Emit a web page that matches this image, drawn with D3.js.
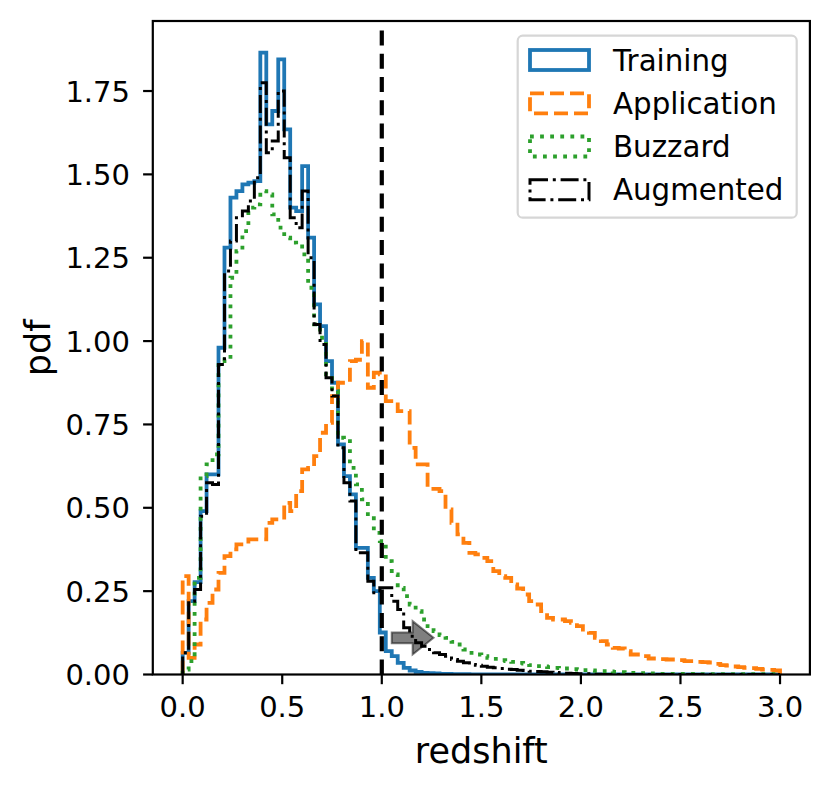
<!DOCTYPE html>
<html>
<head>
<meta charset="utf-8">
<script src="https://cdn.jsdelivr.net/npm/d3@7"></script>
<style>
  html, body { margin: 0; padding: 0; background: #fff; }
  text { font-family: "DejaVu Sans", sans-serif; fill: #000; }
</style>
</head>
<body>
<div id="chart"></div>
<script>
// histogram bins: 100 bins of width 0.03 between 0 and 3
const binStart = 0;
const binWidth = 0.03;

// pdf per bin
const training = [
  0.065, 0.22, 0.277, 0.49, 0.60, 0.60, 0.98, 1.28, 1.43, 1.45,
  1.47, 1.475, 1.48, 1.865, 1.65, 1.69, 1.845, 1.635, 1.40, 1.39,
  1.525, 1.31, 1.11, 1.045, 0.94, 0.875, 0.69, 0.595, 0.54, 0.38,
  0.38, 0.29, 0.25, 0.126, 0.07, 0.055, 0.035, 0.02, 0.012, 0.008,
  0.005, 0.004, 0.003, 0.002, 0.0015, 0.001, 0.001, 0.0008, 0.0005, 0.0003,
  0, 0, 0, 0, 0, 0, 0, 0, 0, 0,
  0, 0, 0, 0, 0, 0, 0, 0, 0, 0,
  0, 0, 0, 0, 0, 0, 0, 0, 0, 0,
  0, 0, 0, 0, 0, 0, 0, 0, 0, 0,
  0, 0, 0, 0, 0, 0, 0, 0, 0, 0
];

const application = [
  0.295, 0.05, 0.09, 0.165, 0.215, 0.255, 0.305, 0.355, 0.375, 0.39,
  0.39, 0.405, 0.405, 0.405, 0.455, 0.465, 0.465, 0.515, 0.49, 0.55,
  0.615, 0.62, 0.655, 0.725, 0.755, 0.835, 0.875, 0.875, 0.94, 0.944,
  1.0, 0.86, 0.905, 0.9, 0.82, 0.82, 0.79, 0.79, 0.68, 0.63,
  0.63, 0.557, 0.557, 0.55, 0.495, 0.455, 0.42, 0.395, 0.365, 0.36,
  0.35, 0.34, 0.31, 0.295, 0.29, 0.27, 0.258, 0.24, 0.22, 0.21,
  0.19, 0.17, 0.165, 0.165, 0.16, 0.155, 0.145, 0.135, 0.125, 0.11,
  0.1, 0.09, 0.08, 0.078, 0.07, 0.06, 0.06, 0.055, 0.048, 0.048,
  0.046, 0.045, 0.045, 0.043, 0.04, 0.04, 0.038, 0.037, 0.036, 0.032,
  0.028, 0.027, 0.024, 0.022, 0.02, 0.019, 0.017, 0.015, 0.014, 0.012
];

const buzzard = [
  0.015, 0.04, 0.29, 0.595, 0.63, 0.66, 0.94, 0.945, 1.19, 1.27,
  1.33, 1.40, 1.41, 1.45, 1.44, 1.38, 1.34, 1.31, 1.295, 1.29,
  1.26, 1.16, 1.05, 1.01, 0.90, 0.85, 0.71, 0.70, 0.62, 0.57,
  0.525, 0.475, 0.425, 0.40, 0.34, 0.30, 0.26, 0.235, 0.21, 0.19,
  0.165, 0.145, 0.13, 0.118, 0.11, 0.098, 0.09, 0.075, 0.065, 0.06,
  0.055, 0.05, 0.047, 0.043, 0.04, 0.038, 0.035, 0.033, 0.028, 0.025,
  0.024, 0.022, 0.02, 0.019, 0.018, 0.016, 0.015, 0.013, 0.012, 0.011,
  0.01, 0.009, 0.008, 0.007, 0.006, 0.005, 0.004, 0.004, 0.003, 0.003,
  0.002, 0.002, 0.002, 0.002, 0.002, 0.002, 0.001, 0.001, 0.001, 0.001,
  0.001, 0.001, 0.001, 0.001, 0.001, 0.001, 0.001, 0.001, 0.001, 0.001
];

const augmented = [
  0.065, 0.22, 0.255, 0.475, 0.575, 0.57, 0.93, 1.21, 1.30, 1.37,
  1.39, 1.42, 1.49, 1.775, 1.565, 1.60, 1.75, 1.55, 1.37, 1.34,
  1.45, 1.25, 1.05, 0.99, 0.89, 0.835, 0.68, 0.575, 0.52, 0.365,
  0.365, 0.28, 0.245, 0.26, 0.26, 0.22, 0.195, 0.14, 0.115, 0.095,
  0.085, 0.075, 0.065, 0.06, 0.055, 0.045, 0.04, 0.035, 0.03, 0.028,
  0.025, 0.022, 0.02, 0.018, 0.016, 0.015, 0.013, 0.012, 0.01, 0.009,
  0.008, 0.007, 0.006, 0.005, 0.004, 0.003, 0.002, 0.002, 0.001, 0.001,
  0, 0, 0, 0, 0, 0, 0, 0, 0, 0,
  0, 0, 0, 0, 0, 0, 0, 0, 0, 0,
  0, 0, 0, 0, 0, 0, 0, 0, 0, 0
];

const seriesNames = ['Training', 'Application', 'Buzzard', 'Augmented'];
const xTicks = [0, 0.5, 1.0, 1.5, 2.0, 2.5, 3.0];
const yTicks = [0, 0.25, 0.5, 0.75, 1.0, 1.25, 1.5, 1.75];
const cutRedshift = 1.0;
// arrow: tail x, y, tip x (data units)
const arrowTail = [1.05, 0.11];
const arrowTip = 1.26;

const styles = {
  Training:    { color: '#1f77b4', width: 3.8, dash: null },
  Application: { color: '#ff7f0e', width: 3.8, dash: '14,6' },
  Buzzard:     { color: '#2ca02c', width: 3.8, dash: '3.8,6.3' },
  Augmented:   { color: '#000000', width: 3.0, dash: '18,4.8,3,4.8' }
};

const W = 832, H = 791;
const plot = { left: 152.8, right: 809.9, top: 21, bottom: 674.5 };

const x = d3.scaleLinear().domain([-0.15, 3.15]).range([plot.left, plot.right]);
const y = d3.scaleLinear().domain([0, 1.96]).range([plot.bottom, plot.top]);

const svg = d3.select('#chart').append('svg')
  .attr('width', W).attr('height', H);

svg.append('defs').append('clipPath').attr('id', 'plotclip')
  .append('rect')
  .attr('x', plot.left).attr('y', plot.top)
  .attr('width', plot.right - plot.left).attr('height', plot.bottom - plot.top);

// turn bin values into step outline vertices (like histtype='step')
function stepPoints(values) {
  const pts = [[binStart, 0]];
  values.forEach((v, i) => {
    const x0 = binStart + i * binWidth;
    pts.push([x0, v]);
    pts.push([x0 + binWidth, v]);
  });
  pts.push([binStart + values.length * binWidth, 0]);
  return pts;
}

const line = d3.line().x(d => x(d[0])).y(d => y(d[1]));

const g = svg.append('g').attr('clip-path', 'url(#plotclip)');

const allSeries = [training, application, buzzard, augmented];
allSeries.forEach((vals, i) => {
  const st = styles[seriesNames[i]];
  g.append('path')
    .attr('d', line(stepPoints(vals)))
    .attr('fill', 'none')
    .attr('stroke', st.color)
    .attr('stroke-width', st.width)
    .attr('stroke-linejoin', 'miter')
    .attr('stroke-dasharray', st.dash);
});

// dashed cut line
g.append('line')
  .attr('x1', x(cutRedshift)).attr('x2', x(cutRedshift))
  .attr('y1', plot.bottom).attr('y2', plot.top)
  .attr('stroke', '#000').attr('stroke-width', 4.2)
  .attr('stroke-dasharray', '15,8.3');

// grey arrow
const bodyHalf = 0.016, headHalf = 0.05, headStart = 1.155;
const arrowPts = [
  [arrowTail[0], arrowTail[1] + bodyHalf],
  [headStart, arrowTail[1] + bodyHalf],
  [headStart, arrowTail[1] + headHalf],
  [arrowTip, arrowTail[1]],
  [headStart, arrowTail[1] - headHalf],
  [headStart, arrowTail[1] - bodyHalf],
  [arrowTail[0], arrowTail[1] - bodyHalf]
];
g.append('path')
  .attr('d', line(arrowPts) + 'Z')
  .attr('fill', '#000').attr('fill-opacity', 0.5)
  .attr('stroke', '#000').attr('stroke-opacity', 0.5)
  .attr('stroke-width', 2).attr('stroke-linejoin', 'miter');

// axes frame
svg.append('rect')
  .attr('x', plot.left).attr('y', plot.top)
  .attr('width', plot.right - plot.left).attr('height', plot.bottom - plot.top)
  .attr('fill', 'none').attr('stroke', '#000').attr('stroke-width', 2.2);

// ticks
const xAxis = svg.append('g');
xTicks.forEach(t => {
  xAxis.append('line')
    .attr('x1', x(t)).attr('x2', x(t))
    .attr('y1', plot.bottom).attr('y2', plot.bottom + 9.7)
    .attr('stroke', '#000').attr('stroke-width', 2.2);
  xAxis.append('text')
    .attr('x', x(t)).attr('y', 717)
    .attr('text-anchor', 'middle').attr('font-size', 29)
    .text(d3.format('.1f')(t));
});

const yAxis = svg.append('g');
yTicks.forEach(t => {
  yAxis.append('line')
    .attr('x1', plot.left - 9.7).attr('x2', plot.left)
    .attr('y1', y(t)).attr('y2', y(t))
    .attr('stroke', '#000').attr('stroke-width', 2.2);
  yAxis.append('text')
    .attr('x', 130).attr('y', y(t) + 10.5)
    .attr('text-anchor', 'end').attr('font-size', 29)
    .text(d3.format('.2f')(t));
});

svg.append('text')
  .attr('x', (plot.left + plot.right) / 2).attr('y', 763)
  .attr('text-anchor', 'middle').attr('font-size', 35)
  .text('redshift');

svg.append('text')
  .attr('transform', `translate(50,${(plot.top + plot.bottom) / 2}) rotate(-90)`)
  .attr('text-anchor', 'middle').attr('font-size', 35)
  .text('pdf');

// legend
const legend = svg.append('g');
legend.append('rect')
  .attr('x', 517.7).attr('y', 35.7).attr('width', 279).attr('height', 182)
  .attr('rx', 5).attr('ry', 5)
  .attr('fill', '#fff').attr('fill-opacity', 0.8)
  .attr('stroke', '#d6d6d6').attr('stroke-width', 2.2);

const rowY = [60, 103.3, 146.5, 189.7];
seriesNames.forEach((name, i) => {
  const st = styles[name];
  legend.append('rect')
    .attr('x', 530).attr('y', rowY[i] - 10)
    .attr('width', 59).attr('height', 20)
    .attr('fill', 'none')
    .attr('stroke', st.color).attr('stroke-width', st.width)
    .attr('stroke-dasharray', st.dash);
  legend.append('text')
    .attr('x', 613).attr('y', rowY[i] + 10.5)
    .attr('font-size', 29.3)
    .text(name);
});
</script>
</body>
</html>
